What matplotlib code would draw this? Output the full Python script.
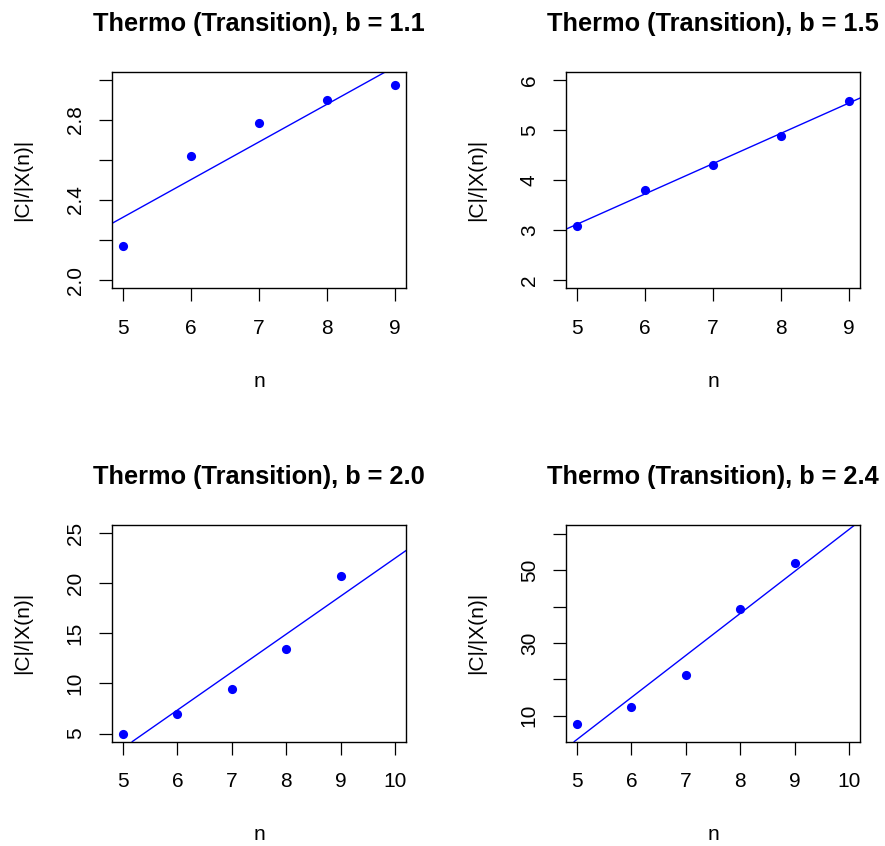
import numpy as np
import matplotlib
matplotlib.use("Agg")
import matplotlib.pyplot as plt

plt.rcParams['font.family'] = ['Liberation Sans', 'DejaVu Sans']

# system sizes and measured ratios
n = [5, 6, 7, 8, 9]
b_values = ['1.1', '1.5', '2.0', '2.4']
ratio_b11 = [2.171, 2.622, 2.785, 2.898, 2.973]
ratio_b15 = [3.087, 3.800, 4.293, 4.880, 5.573]
ratio_b20 = [5.00, 7.00, 9.47, 13.43, 20.73]
ratio_b24 = [7.80, 12.37, 21.18, 39.45, 52.00]
ratios = [ratio_b11, ratio_b15, ratio_b20, ratio_b24]

# axis ranges and ticks for each panel
xlims = [(4.84, 9.16), (4.84, 9.16), (4.8, 10.2), (4.8, 10.2)]
ylims = [(1.96, 3.04), (1.84, 6.16), (4.2, 25.8), (2.9, 62.4)]
xticks = [[5, 6, 7, 8, 9], [5, 6, 7, 8, 9],
          [5, 6, 7, 8, 9, 10], [5, 6, 7, 8, 9, 10]]
yticks = [[2.0, 2.2, 2.4, 2.6, 2.8, 3.0], [2, 3, 4, 5, 6],
          [5, 10, 15, 20, 25], [10, 20, 30, 40, 50, 60]]
ytick_labels = [['2.0', '', '2.4', '', '2.8', ''], ['2', '3', '4', '5', '6'],
                ['5', '10', '15', '20', '25'], ['10', '', '30', '', '50', '']]

W, H = 885, 846
fig = plt.figure(figsize=(W / 100, H / 100), dpi=100)

lefts = [112, 566]
tops = [71.7, 525]
aw, ah = 294, 216.6

for i in range(4):
    r, c = divmod(i, 2)
    left = lefts[c] / W
    bottom = 1 - (tops[r] + ah) / H
    ax = fig.add_axes([left, bottom, aw / W, ah / H])

    y = ratios[i]
    ax.plot(n, y, 'o', color='#0000ff', markersize=6.6, markeredgewidth=0)

    # least squares line through the points
    slope, icpt = np.polyfit(n, y, 1)
    ax.axline((0, icpt), slope=slope, color='#0000ff', linewidth=1.0)

    ax.set_xlim(xlims[i])
    ax.set_ylim(ylims[i])
    ax.set_xticks(xticks[i])
    ax.set_xticklabels([str(t) for t in xticks[i]])
    ax.set_yticks(yticks[i])
    ax.set_yticklabels(ytick_labels[i], rotation=90)
    for lbl in ax.get_yticklabels():
        lbl.set_va('center')

    ax.tick_params(axis='both', direction='out', length=9.1, width=0.9,
                   labelsize=15, colors='black')
    ax.tick_params(axis='x', pad=13)
    ax.tick_params(axis='y', pad=10.5)
    for sp in ax.spines.values():
        sp.set_linewidth(1.0)

    ax.set_title('Thermo (Transition), b = ' + b_values[i],
                 fontsize=18.3, fontweight='bold', y=1 + 41 / ah, pad=0)
    ax.text(0.5, -98.4 / ah, 'n', transform=ax.transAxes, fontsize=15,
            ha='center', va='baseline')
    ax.text(-89 / aw, 0.5, '|C|/|X(n)|', transform=ax.transAxes,
            fontsize=15, rotation=90, ha='center', va='center')

fig.savefig('out.png', dpi=100)
